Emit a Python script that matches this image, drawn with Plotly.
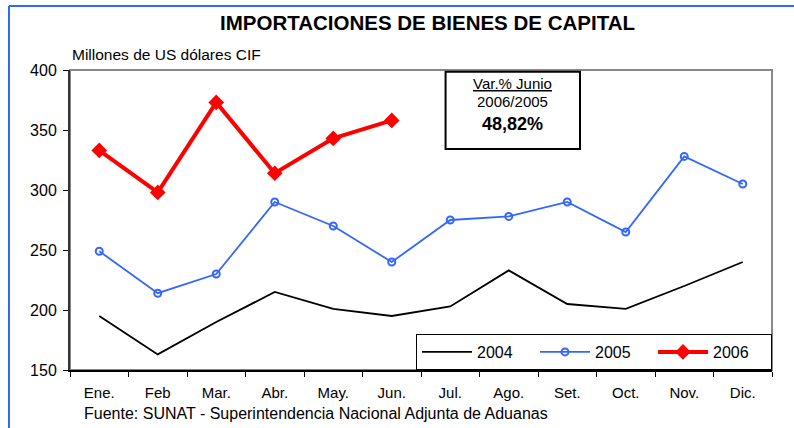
import plotly.graph_objects as go

months = ["Ene.", "Feb", "Mar.", "Abr.", "May.", "Jun.", "Jul.", "Ago.", "Set.", "Oct.", "Nov.", "Dic."]
v2004 = [195, 163, 190, 215, 201, 195, 203, 233, 205, 201, 220, 240]
v2005 = [249, 214, 230, 290, 270, 240, 275, 278, 290, 265, 328, 305]
v2006 = [333, 298, 373, 314, 343, 358]
yticks = [150, 200, 250, 300, 350, 400]

FONT = "Liberation Sans, Arial, sans-serif"

fig = go.Figure()
fig.add_trace(go.Scatter(x=months, y=v2004, name="2004", mode="lines",
                         line=dict(color="black", width=1.8)))
fig.add_trace(go.Scatter(x=months, y=v2005, name="2005", mode="lines+markers",
                         line=dict(color="#3366FF", width=1.8),
                         marker=dict(symbol="circle-open", size=7, color="#3366FF",
                                     line=dict(width=2, color="#3366FF"))))
fig.add_trace(go.Scatter(x=months[:len(v2006)], y=v2006, name="2006", mode="lines+markers",
                         line=dict(color="#FF0000", width=4),
                         marker=dict(symbol="diamond", size=12, color="#FF0000")))

fig.update_layout(
    width=794, height=428,
    margin=dict(l=70, r=22, t=70, b=58),
    paper_bgcolor="white", plot_bgcolor="white",
    font=dict(family=FONT, size=14, color="black"),
    showlegend=True,
    legend=dict(orientation="h", x=1, xanchor="right", y=0, yanchor="bottom",
                bgcolor="white", bordercolor="black", borderwidth=1,
                font=dict(size=16), entrywidth=53, entrywidthmode="pixels",
                itemwidth=50, tracegroupgap=0),
    xaxis=dict(type="category", categoryorder="array", categoryarray=months,
               range=[-0.5, 11.5], showline=True, linecolor="black", linewidth=1.5,
               ticks="outside", tickson="boundaries", ticklen=5, tickcolor="black",
               showgrid=False, zeroline=False, tickfont=dict(size=15),
               ticklabelstandoff=8),
    yaxis=dict(range=[150, 400], tickvals=yticks, showline=True, linecolor="#333333",
               linewidth=2, ticks="outside", ticklen=5, tickcolor="black",
               showgrid=False, zeroline=False, tickfont=dict(size=16),
               ticklabelstandoff=3),
    shapes=[
        dict(type="rect", xref="paper", yref="paper", x0=0, x1=1, y0=0, y1=1,
             line=dict(color="#888888", width=2), layer="below"),
        dict(type="rect", xref="paper", yref="paper", x0=0.535, x1=0.7265, y0=0.737, y1=0.994,
             line=dict(color="black", width=2), fillcolor="white", layer="above"),
        dict(type="line", xref="paper", yref="paper",
             x0=(9 - 70) / 702, x1=1.05, y0=(370 - 6) / 300, y1=(370 - 6) / 300,
             line=dict(color="#3366FF", width=2)),
        dict(type="line", xref="paper", yref="paper",
             x0=(9 - 70) / 702, x1=(9 - 70) / 702, y0=(370 - 6) / 300, y1=-0.3,
             line=dict(color="#3366FF", width=2)),
    ],
    annotations=[
        dict(text="<b>IMPORTACIONES DE BIENES DE CAPITAL</b>", xref="paper", yref="paper",
             x=(427 - 70) / 702, y=(370 - 22) / 300, showarrow=False,
             font=dict(size=20.5), xanchor="center", yanchor="middle"),
        dict(text="Millones de US dólares CIF", xref="paper", yref="paper",
             x=0, y=(370 - 54) / 300, showarrow=False, font=dict(size=15.5),
             xanchor="left", yanchor="middle"),
        dict(text="Fuente: SUNAT - Superintendencia Nacional Adjunta de Aduanas",
             xref="paper", yref="paper", x=(82 - 70) / 702, y=(370 - 413) / 300,
             showarrow=False, font=dict(size=16), xanchor="left", yanchor="middle"),
        dict(text="<u>Var.% Junio</u>", xref="paper", yref="paper", x=0.631,
             y=(370 - 84) / 300, showarrow=False, font=dict(size=15),
             xanchor="center", yanchor="middle"),
        dict(text="2006/2005", xref="paper", yref="paper", x=0.631,
             y=(370 - 101) / 300, showarrow=False, font=dict(size=15),
             xanchor="center", yanchor="middle"),
        dict(text="<b>48,82%</b>", xref="paper", yref="paper", x=0.631,
             y=(370 - 124) / 300, showarrow=False, font=dict(size=18),
             xanchor="center", yanchor="middle"),
    ],
)

fig.write_html("out.html", config={"displayModeBar": False},
               post_script="document.body.style.margin='0px';document.body.style.overflow='hidden';")
